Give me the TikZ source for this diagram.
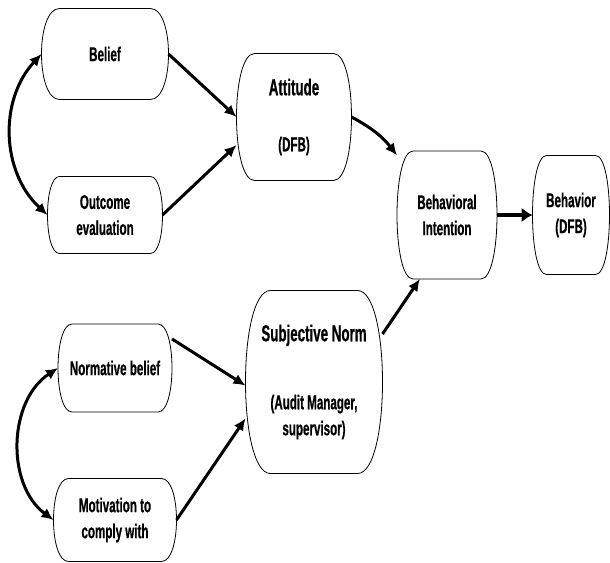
\documentclass[tikz,border=0pt]{standalone}
\usepackage{fontspec}
\setmainfont{Liberation Sans}[FakeStretch=0.58, BoldFeatures={FakeBold=0.6}]
\usetikzlibrary{arrows.meta}

\newcommand{\bigtxt}[1]{{\fontsize{23}{26}\selectfont #1}}

\begin{document}
\begin{tikzpicture}[
  x=1pt,y=1pt,
  ->,>={Latex[length=12pt,width=11pt]},line width=3pt,
  every node/.style={font=\bfseries\fontsize{20}{26}\selectfont, inner sep=0pt, align=center},
  bubble/.style={rectangle},
  rim/.style={-,draw=black,line width=0.8pt},
  every edge/.style={draw=black}]

  \useasboundingbox (0,0) rectangle (610,-562);

  \node[bubble, minimum width=124pt, minimum height=88pt]  (bel) at (105,-54)  {Belief};
  \node[bubble, minimum width=112pt, minimum height=74pt]  (out) at (105,-215) {Outcome\\evaluation};
  \node[bubble, minimum width=112pt, minimum height=124pt] (att) at (294,-117) {\bigtxt{Attitude}\\[30pt](DFB)};
  \node[bubble, minimum width=97pt,  minimum height=125pt] (bhi) at (447,-215) {Behavioral\\Intention};
  \node[bubble, minimum width=74pt,  minimum height=116pt] (bhv) at (571,-215) {Behavior\\(DFB)};
  \node[bubble, minimum width=111pt, minimum height=85pt]  (nrm) at (115,-368) {Normative belief};
  \node[bubble, minimum width=120pt, minimum height=80pt]  (mot) at (115,-520) {Motivation to\\comply with};
  \node[bubble, minimum width=134pt, minimum height=180pt] (sbn) at (314,-382) {\bigtxt{Subjective Norm}\\[42pt](Audit Manager,\\supervisor)};

  % flat top and bottom, bulging sides
  \foreach \n/\r in {bel/18, out/12, att/18, bhi/16, bhv/14, nrm/14, mot/15, sbn/25} {
    \pgfmathsetmacro\ctrl{\r/3}
    \draw[rim] ([xshift=\r pt]\n.north west) -- ([xshift=-\r pt]\n.north east)
      .. controls ([xshift=\ctrl pt]\n.north east) and ([xshift=\ctrl pt]\n.south east) .. ([xshift=-\r pt]\n.south east)
      -- ([xshift=\r pt]\n.south west)
      .. controls ([xshift=-\ctrl pt]\n.south west) and ([xshift=-\ctrl pt]\n.north west) .. cycle;
  }

  \path
    (bel.east) edge[] (att.west)
    (out.east) edge[] (att.206)
    (att.east) edge[bend left=12] (bhi.130)
    (sbn.35)   edge[] (bhi.247)
    (bhi.east) edge[line width=4.5pt, -{Latex[length=11pt,width=15pt]}] (bhv.west)
    (nrm.27)   edge[] (sbn.183)
    (mot.east) edge[] (sbn.208)

    (bel.west) edge[<->, bend right=45] (out.west)
    (nrm.west) edge[<->, bend right=55] (mot.west)
  ;

\end{tikzpicture}
\end{document}
